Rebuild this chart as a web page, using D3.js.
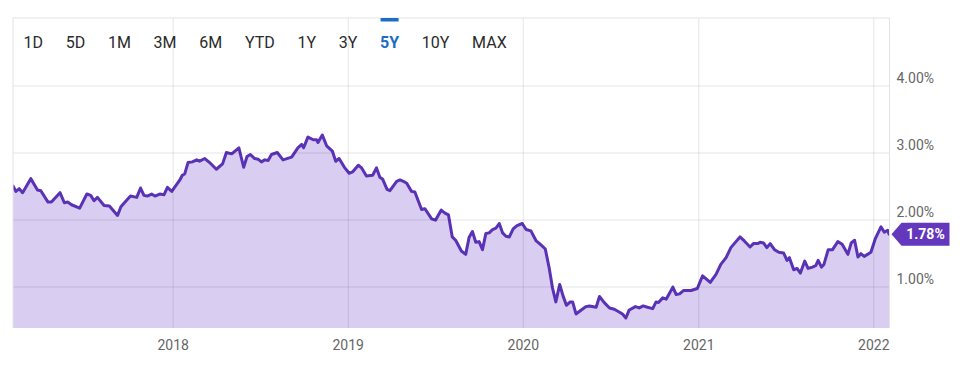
<!DOCTYPE html>
<html><head><meta charset="utf-8">
<script src="https://cdn.jsdelivr.net/npm/d3@7"></script>
<style>
html,body{margin:0;padding:0;background:#fff;}
svg{display:block;font-family:Roboto,"Noto Sans",sans-serif;}
</style></head><body>
<svg id="chart" width="975" height="366"></svg>
<script>
// ---- data ----
const dates = [
"2017-02-02","2017-02-08","2017-02-15","2017-02-22","2017-03-11","2017-03-25","2017-04-01","2017-04-16","2017-04-23","2017-05-11",
"2017-05-20","2017-05-27","2017-06-04","2017-06-21","2017-07-06","2017-07-14","2017-07-21","2017-07-28","2017-08-11","2017-08-22",
"2017-09-08","2017-09-15","2017-09-26","2017-10-05","2017-10-18","2017-10-26","2017-11-02","2017-11-09","2017-11-18","2017-11-25",
"2017-12-05","2017-12-14","2017-12-21","2017-12-30","2018-01-16","2018-01-21","2018-01-26","2018-02-02","2018-02-11","2018-02-20",
"2018-02-26","2018-03-09","2018-03-19","2018-04-02","2018-04-15","2018-04-23","2018-05-04","2018-05-19","2018-05-29","2018-06-05",
"2018-06-12","2018-06-21","2018-06-28","2018-07-05","2018-07-12","2018-07-19","2018-07-26","2018-08-07","2018-08-19","2018-09-06",
"2018-09-19","2018-09-27","2018-10-01","2018-10-10","2018-10-21","2018-10-28","2018-10-31","2018-11-09","2018-11-18","2018-11-30",
"2018-12-07","2018-12-14","2018-12-26","2019-01-04","2019-01-11","2019-01-23","2019-01-30","2019-02-09","2019-02-22","2019-03-02",
"2019-03-09","2019-03-15","2019-03-24","2019-03-30","2019-04-13","2019-04-20","2019-04-27","2019-05-04","2019-05-14","2019-05-21",
"2019-06-04","2019-06-11","2019-06-25","2019-07-03","2019-07-15","2019-07-22","2019-07-30","2019-08-07","2019-08-14","2019-08-26",
"2019-09-04","2019-09-11","2019-09-18","2019-09-25","2019-10-02","2019-10-09","2019-10-16","2019-10-23","2019-10-30","2019-11-06",
"2019-11-13","2019-11-20","2019-11-27","2019-12-04","2019-12-12","2019-12-20","2019-12-31","2020-01-08","2020-01-18","2020-01-29",
"2020-02-08","2020-02-17","2020-02-25","2020-03-03","2020-03-10","2020-03-18","2020-03-25","2020-04-01","2020-04-09","2020-04-14",
"2020-04-21","2020-05-02","2020-05-12","2020-05-19","2020-06-02","2020-06-09","2020-06-19","2020-06-30","2020-07-10","2020-07-20",
"2020-07-27","2020-08-03","2020-08-10","2020-08-23","2020-08-31","2020-09-08","2020-09-17","2020-09-28","2020-10-05","2020-10-10",
"2020-10-19","2020-10-26","2020-11-09","2020-11-16","2020-11-23","2020-12-01","2020-12-17","2020-12-30","2021-01-10","2021-01-26",
"2021-02-07","2021-02-17","2021-02-28","2021-03-10","2021-03-17","2021-03-29","2021-04-07","2021-04-19","2021-04-26","2021-05-05",
"2021-05-10","2021-05-17","2021-05-24","2021-05-31","2021-06-09","2021-06-18","2021-06-28","2021-07-05","2021-07-10","2021-07-19",
"2021-07-26","2021-08-02","2021-08-11","2021-08-18","2021-08-27","2021-09-03","2021-09-08","2021-09-15","2021-09-20","2021-09-29",
"2021-10-08","2021-10-19","2021-10-28","2021-11-09","2021-11-16","2021-11-23","2021-11-30","2021-12-06","2021-12-13","2021-12-27",
"2022-01-05","2022-01-17","2022-01-24","2022-01-31","2022-02-03"];
const values = [
2.50,2.42,2.46,2.40,2.61,2.44,2.43,2.26,2.26,2.40,
2.25,2.26,2.22,2.17,2.38,2.36,2.28,2.33,2.21,2.20,
2.06,2.19,2.28,2.35,2.33,2.47,2.36,2.35,2.38,2.35,
2.38,2.37,2.48,2.42,2.59,2.66,2.68,2.85,2.86,2.89,
2.87,2.91,2.85,2.75,2.83,3.00,2.98,3.07,2.78,2.94,
2.97,2.91,2.90,2.86,2.89,2.88,2.97,3.00,2.89,2.93,
3.07,3.12,3.07,3.23,3.19,3.19,3.15,3.26,3.10,3.02,
2.87,2.91,2.77,2.69,2.71,2.81,2.77,2.65,2.66,2.77,
2.63,2.60,2.45,2.43,2.57,2.59,2.57,2.54,2.42,2.41,
2.15,2.16,2.01,1.99,2.14,2.10,2.07,1.74,1.69,1.53,
1.48,1.73,1.82,1.66,1.67,1.55,1.79,1.80,1.85,1.87,
1.94,1.80,1.75,1.74,1.86,1.91,1.94,1.85,1.83,1.68,
1.62,1.56,1.28,0.98,0.77,1.03,0.86,0.72,0.77,0.77,
0.59,0.65,0.70,0.71,0.69,0.85,0.76,0.68,0.66,0.62,
0.59,0.53,0.65,0.70,0.68,0.71,0.69,0.67,0.77,0.76,
0.83,0.81,0.99,0.88,0.89,0.94,0.94,0.97,1.16,1.06,
1.18,1.33,1.43,1.58,1.64,1.74,1.68,1.59,1.64,1.64,
1.66,1.65,1.58,1.64,1.55,1.51,1.50,1.39,1.43,1.25,
1.27,1.20,1.38,1.27,1.29,1.31,1.39,1.29,1.33,1.55,
1.55,1.67,1.63,1.48,1.65,1.69,1.44,1.49,1.45,1.51,
1.71,1.89,1.81,1.84,1.78];
const ranges = ["1D","5D","1M","3M","6M","YTD","1Y","3Y","5Y","10Y","MAX"];
const activeRange = "5Y";
const yearTicks = ["2018-01-01","2019-01-01","2020-01-01","2021-01-01","2022-01-01"];
const yearLabels = ["2018","2019","2020","2021","2022"];
const valueTicks = [1,2,3,4];
const lastLabel = "1.78%";

// ---- layout ----
const pL = 13, pR = 889.5, pT = 18, pB = 328;
const parse = d3.utcParse("%Y-%m-%d");
const data = dates.map((d,i)=>({date:parse(d), value:values[i]}));

const x = d3.scaleUtc()
  .domain([parse(yearTicks[0]), parse(yearTicks[yearTicks.length-1])])
  .range([172.7, 873.3]);
const y = d3.scaleLinear().domain([1,4]).range([286.5, 85.5]);

const svg = d3.select("#chart");
svg.append("defs").append("clipPath").attr("id","clip")
  .append("rect").attr("x",pL).attr("y",pT).attr("width",pR-pL).attr("height",pB-pT);

const plot = svg.append("g").attr("clip-path","url(#clip)");

// area fill
const area = d3.area().x(d=>x(d.date)).y0(pB).y1(d=>y(d.value));
plot.append("path").datum(data).attr("d",area).attr("fill","#d9cdf2");

// grid (drawn over fill)
const gridColor = "rgba(0,0,0,0.10)";
const gx = svg.append("g").attr("transform",`translate(0,${pT})`)
  .call(d3.axisBottom(x).tickValues(yearTicks.map(parse)).tickSize(pB-pT).tickFormat(""));
gx.select(".domain").remove();
gx.selectAll(".tick line").attr("stroke",gridColor).attr("stroke-width",1);

const gy = svg.append("g").attr("transform",`translate(${pL},0)`)
  .call(d3.axisRight(y).tickValues(valueTicks).tickSize(pR-pL).tickFormat(""));
gy.select(".domain").remove();
gy.selectAll(".tick line").attr("stroke",gridColor).attr("stroke-width",1);

// frame
svg.append("path")
  .attr("d",`M${pL},${pB}V${pT}H${pR}V${pB}`)
  .attr("fill","none").attr("stroke","#e3e3e3").attr("stroke-width",1);

// line
const line = d3.line().x(d=>x(d.date)).y(d=>y(d.value));
plot.append("path").datum(data).attr("d",line)
  .attr("fill","none").attr("stroke","#5a32b5").attr("stroke-width",3)
  .attr("stroke-linejoin","round").attr("stroke-linecap","round");

// x labels
const xl = svg.append("g").attr("transform",`translate(0,${pB})`)
  .call(d3.axisBottom(x).tickValues(yearTicks.map(parse)).tickSize(0).tickPadding(12)
    .tickFormat((d,i)=>yearLabels[i]));
xl.select(".domain").remove();
xl.selectAll("text").attr("font-family","Roboto").attr("font-size",14).attr("fill","#666");

// y labels
const yl = svg.append("g").attr("transform",`translate(${pR},0)`)
  .call(d3.axisRight(y).tickValues(valueTicks).tickSize(0).tickPadding(7)
    .tickFormat(d=>d3.format(".2f")(d)+"%"));
yl.select(".domain").remove();
yl.selectAll("text").attr("font-family","Roboto").attr("font-size",14).attr("fill","#666")
  .attr("dy","-0.25em");

// last value label
const last = data[data.length-1];
const ly = y(last.value);
const lab = svg.append("g").attr("transform",`translate(${pR+2},${ly})`);
lab.append("path").attr("d","M0,0L10,-11.5H58V11.5H10Z").attr("fill","#6438bd");
lab.append("text").attr("x",34).attr("y",5).attr("text-anchor","middle")
  .attr("font-family","Roboto").attr("font-weight","bold").attr("font-size",14)
  .attr("fill","#fff").text(lastLabel);

// range buttons
const btn = svg.append("g");
let bx = 23.5;
ranges.forEach(r=>{
  const active = r===activeRange;
  const t = btn.append("text").attr("x",bx).attr("y",47.5)
    .attr("font-family","Roboto").attr("font-size",16)
    .attr("font-weight",active?"bold":"normal")
    .attr("fill",active?"#1c6ec4":"#2a2a2a").text(r);
  const w = t.node().getComputedTextLength();
  if(active){
    btn.append("rect").attr("x",bx+w/2-9).attr("y",pT).attr("width",18).attr("height",3.5)
      .attr("fill","#1c6ec4");
  }
  bx += w + 22.7;
});
</script>
</body></html>
